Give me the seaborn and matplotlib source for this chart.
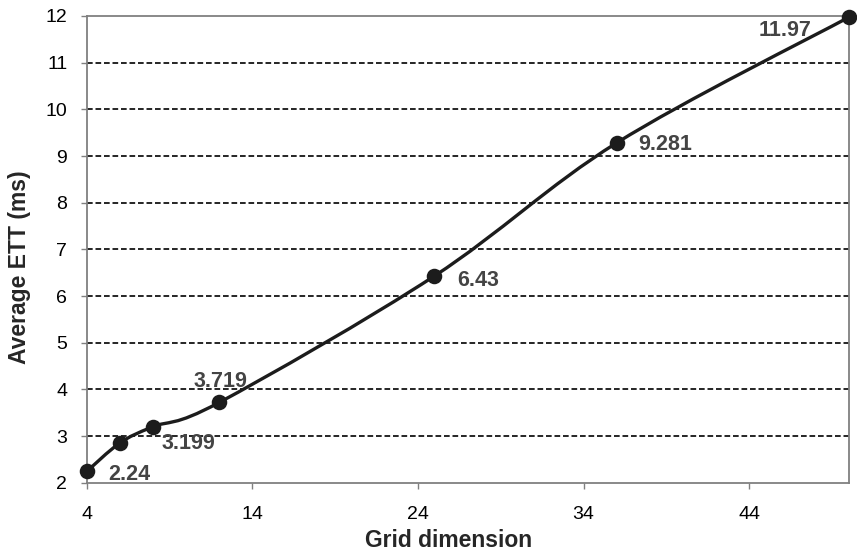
import numpy as np
import pandas as pd
import seaborn as sns
import matplotlib
matplotlib.use("Agg")
import matplotlib.pyplot as plt
from matplotlib.path import Path
from matplotlib.patches import PathPatch

grid_dim = [4, 6, 8, 12, 25, 36, 50]
avg_ett = [2.24, 2.85, 3.199, 3.719, 6.43, 9.281, 11.97]
label_text = ["2.24", None, "3.199", "3.719", "6.43", "9.281", "11.97"]
x_ticks = [4, 14, 24, 34, 44]
y_ticks = [2, 3, 4, 5, 6, 7, 8, 9, 10, 11, 12]

sns.set_theme(style="white")
plt.rcParams["font.family"] = ["Liberation Sans", "DejaVu Sans"]

W, H = 857, 554
fig = plt.figure(figsize=(W / 100, H / 100), dpi=100)
left, right, top, bottom = 86.7, 848.5, 16.0, 482.7
ax = fig.add_axes([left / W, 1 - bottom / H, (right - left) / W, (bottom - top) / H])

df = pd.DataFrame({"grid": grid_dim, "ett": avg_ett})

ax.set_xlim(4, 50)
ax.set_ylim(2, 12)

# gridlines
for yv in y_ticks[1:-1]:
    ax.axhline(yv, color="black", lw=1.2, ls=(0, (3.4, 1.7)), zorder=1)

# smoothed line (Excel-style Bezier computed in display space)
pts = ax.transData.transform(np.column_stack([grid_dim, avg_ett]))
n = len(pts)
verts = [pts[0]]
codes = [Path.MOVETO]
for i in range(n - 1):
    p0 = pts[i - 1] if i > 0 else pts[i]
    p1 = pts[i]
    p2 = pts[i + 1]
    p3 = pts[i + 2] if i + 2 < n else pts[i + 1]
    c1 = p1 + (p2 - p0) / 6.0
    c2 = p2 - (p3 - p1) / 6.0
    verts += [c1, c2, p2]
    codes += [Path.CURVE4] * 3
verts_data = ax.transData.inverted().transform(np.array(verts))
patch = PathPatch(Path(verts_data, codes), facecolor="none", edgecolor="#1c1c1c",
                  lw=2.4, zorder=3, capstyle="round", joinstyle="round")
ax.add_patch(patch)

sns.scatterplot(data=df, x="grid", y="ett", ax=ax, s=125, color="#1c1c1c",
                edgecolor="#1c1c1c", linewidth=0, zorder=4, clip_on=False, legend=False)

# data labels (offsets in points, baseline-anchored)
offsets = [(15.3, -6.1, "left"), None, (6.0, -16.3, "left"),
           (1.0, 10.8, "center"), (16.3, -7.3, "left"),
           (15.2, -5.3, "left"), (-26.5, -13.7, "right")]
for x, y, t, off in zip(grid_dim, avg_ett, label_text, offsets):
    if t is None:
        continue
    dx, dy, ha = off
    ax.annotate(t, (x, y), xytext=(dx, dy), textcoords="offset points",
                ha=ha, va="baseline", fontsize=15.5, fontweight="bold",
                color="#444444", zorder=5)

ax.set_xticks(x_ticks)
ax.set_yticks(y_ticks)
ax.tick_params(axis="both", which="major", direction="out", length=4.5, width=1,
               color="#808080", labelsize=14, labelcolor="black",
               bottom=True, left=True)
ax.tick_params(axis="y", pad=9.5)
ax.tick_params(axis="x", pad=12.5)
for s in ax.spines.values():
    s.set_color("#808080")
    s.set_linewidth(1.3)
    s.set_visible(True)

ax.set_xlabel("Grid dimension", fontsize=16.5, fontweight="bold")
ax.set_ylabel("Average ETT (ms)", fontsize=16.5, fontweight="bold")
ax.xaxis.set_label_coords(0.4747, -0.0986)
ax.yaxis.set_label_coords(-0.0731, 0.461)

fig.savefig("out.png", dpi=100, facecolor="white")
